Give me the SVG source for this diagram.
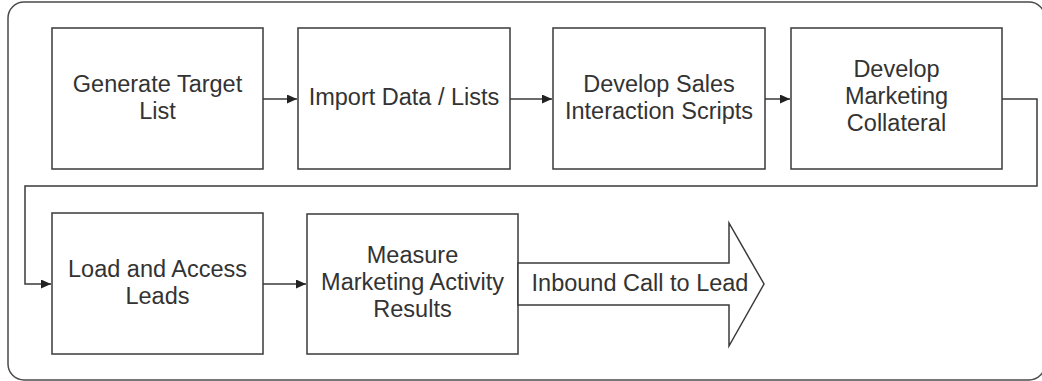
<svg xmlns="http://www.w3.org/2000/svg" width="1042" height="381" viewBox="0 0 1042 381">
<style>
.box{fill:#fff;stroke:#3a3a3a;stroke-width:1.5}
.lbl{font-family:"Liberation Sans",Arial,sans-serif;font-size:23.5px;fill:#333;text-anchor:middle}
.con{fill:none;stroke:#3a3a3a;stroke-width:1.5}
</style>
<defs>
<marker id="ah" markerWidth="10" markerHeight="9" refX="10" refY="4.5" orient="auto" markerUnits="userSpaceOnUse">
<path d="M0,0 L10,4.5 L0,9 Z" fill="#222"/>
</marker>
</defs>
<rect x="0" y="0" width="1042" height="381" fill="#fff"/>
<rect id="frame" x="8" y="2" width="1037" height="378" rx="16" ry="16" fill="#fff" stroke="#4a4a4a" stroke-width="1.5"/>
<g id="connectors">
<path class="con" d="M263,99 H297" marker-end="url(#ah)"/>
<path class="con" d="M510,99 H552" marker-end="url(#ah)"/>
<path class="con" d="M765,99 H790" marker-end="url(#ah)"/>
<path class="con" d="M1002,99 H1037 V186 H25 V284 H51" marker-end="url(#ah)"/>
<path class="con" d="M263,284 H306" marker-end="url(#ah)"/>
</g>
<g id="n1">
<rect class="box" x="52" y="28" width="211" height="141"/>
<text class="lbl" x="157.5" y="92">Generate Target</text>
<text class="lbl" x="157.5" y="119">List</text>
</g>
<g id="n2">
<rect class="box" x="298" y="28" width="212" height="141"/>
<text class="lbl" x="404" y="105">Import Data / Lists</text>
</g>
<g id="n3">
<rect class="box" x="553" y="28" width="212" height="141"/>
<text class="lbl" x="659" y="92">Develop Sales</text>
<text class="lbl" x="659" y="119">Interaction Scripts</text>
</g>
<g id="n4">
<rect class="box" x="791" y="28" width="211" height="141"/>
<text class="lbl" x="896.5" y="77">Develop</text>
<text class="lbl" x="896.5" y="104">Marketing</text>
<text class="lbl" x="896.5" y="131">Collateral</text>
</g>
<g id="n5">
<rect class="box" x="52" y="213" width="211" height="141"/>
<text class="lbl" x="157.5" y="277">Load and Access</text>
<text class="lbl" x="157.5" y="304">Leads</text>
</g>
<g id="n6">
<rect class="box" x="307" y="214" width="211" height="140"/>
<text class="lbl" x="412.5" y="263">Measure</text>
<text class="lbl" x="412.5" y="290">Marketing Activity</text>
<text class="lbl" x="412.5" y="317">Results</text>
</g>
<g id="n7">
<polygon class="box" points="518,263 729,263 729,223 764,284 729,346 729,305 518,305"/>
<text class="lbl" x="640" y="291">Inbound Call to Lead</text>
</g>
</svg>
